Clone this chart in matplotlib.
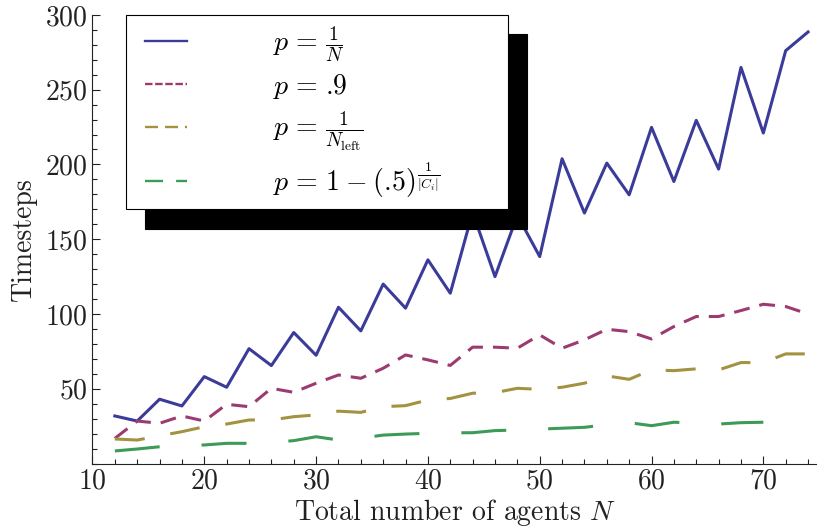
import matplotlib
matplotlib.use("Agg")
import matplotlib.pyplot as plt
from matplotlib.lines import Line2D
from matplotlib.legend_handler import HandlerLine2D
from matplotlib.ticker import MultipleLocator

# agents N = 12, 14, ..., 74
agents = list(range(12, 76, 2))

steps_inv_n = [31.8, 28.4, 43, 38.5, 58.1, 51, 76.8, 65.5, 87.6, 72.4, 104.5, 88.7,
               120, 103.9, 136.2, 113.9, 168, 125, 166, 138.4, 203.8, 167.5, 200.9,
               179.7, 224.8, 188.6, 229.5, 196.9, 264.9, 221, 276.1, 288.6]
steps_p09 = [16.8, 28.4, 26.9, 31.8, 28.4, 39.6, 38, 50.3, 47.6, 53.7, 59.2, 57,
             63.7, 72.6, 69.3, 65.6, 77.8, 77.8, 77.1, 86, 77.1, 82.7, 89.8, 88.2,
             83.3, 91.6, 98.3, 98.3, 102.3, 106.5, 105, 100]
steps_inv_left = [16.4, 15.7, 18.5, 21.3, 24.6, 26.4, 29.1, 29.1, 31.3, 32.5, 35,
                  34.2, 38, 38.7, 42.5, 43.5, 47, 47.4, 50.3, 49.6, 51, 53.7, 58.6,
                  56.3, 62.6, 62.1, 63.3, 62.6, 67.5, 67.5, 73.3, 73.3]
# last series stops at N = 70
steps_cluster = [8.4, 9.7, 11.2, 12, 12.4, 13.5, 13.5, 14, 15.3, 17.9, 15.7, 17,
                 19, 19.7, 20.2, 20.5, 20.6, 22, 22.4, 23, 23.6, 24.2, 26, 27.3,
                 25.3, 27.6, 27, 26.4, 27.3, 27.6]

# mathtext puts a gap after "." so take it back for the decimals
eq = r"\hspace{0.12}=\hspace{0.12}"
labels = [r"$p" + eq + r"\frac{1}{N}$",
          r"$p" + eq + r".\hspace{-0.2}9$",
          r"$p" + eq + r"\frac{1}{N_{\mathrm{left}}}$",
          r"$p" + eq + r"1 \hspace{0.05}-\hspace{0.05} (.\hspace{-0.2}5)^{\frac{1}{|C_i|}}$"]
colors = ["#3b3b9a", "#9c3b70", "#a3923f", "#3c9b56"]
plot_dashes = [None, (11.5, 7.2), (21.6, 18.7), (32.4, 30.2)]
legend_dashes = [None, (5.4, 1.9), (9.4, 5.0), (13.0, 9.4)]

plt.rcParams["font.family"] = "serif"
plt.rcParams["font.serif"] = ["cmr10"]
plt.rcParams["mathtext.fontset"] = "cm"
plt.rcParams["axes.formatter.use_mathtext"] = True
plt.rcParams["lines.scale_dashes"] = False

FS = 20
fig = plt.figure(figsize=(8.17, 5.29), dpi=100)
ax = fig.add_axes([0.1132, 0.1238, 0.8868, 0.848])

series = [steps_inv_n, steps_p09, steps_inv_left, steps_cluster]
for vals, col, dash in zip(series, colors, plot_dashes):
    line, = ax.plot(agents[:len(vals)], vals, color=col, lw=2.2)
    if dash is not None:
        line.set_dashes(dash)

ax.set_xlim(10, 74.8)
ax.set_ylim(0, 300)
ax.set_yticks([50, 100, 150, 200, 250, 300])
ax.xaxis.set_major_locator(MultipleLocator(10))
ax.xaxis.set_minor_locator(MultipleLocator(2))
ax.yaxis.set_minor_locator(MultipleLocator(10))
ax.tick_params(which="both", direction="in", top=False, right=False,
               labelsize=FS, colors="#222222", width=0.8)
ax.tick_params(which="major", length=6)
ax.tick_params(which="minor", length=3.6)
for side in ["top", "right"]:
    ax.spines[side].set_visible(False)
for side in ["left", "bottom"]:
    ax.spines[side].set_color("#222222")

ax.set_xlabel(r"Total number of agents $N$", fontsize=FS, color="#222222", labelpad=2)
ax.set_ylabel("Timesteps", fontsize=FS, color="#222222", labelpad=6)

handles = []
for col, dash in zip(colors, legend_dashes):
    h = Line2D([], [], color=col, lw=1.7)
    if dash is not None:
        h.set_dashes(dash)
    handles.append(h)

# small border pad, but push the sample lines right with xpad
leg = ax.legend(handles, labels, loc="upper left",
                bbox_to_anchor=(0.046, 0.574, 0.5275, 0.426), mode="expand",
                borderaxespad=0, fontsize=FS, handlelength=1.89,
                handletextpad=3.1, labelspacing=0.3, borderpad=0.32,
                handler_map={Line2D: HandlerLine2D(xpad=0.38)},
                fancybox=False, framealpha=1, edgecolor="black",
                shadow={"ox": 14, "oy": -14, "facecolor": "black",
                        "edgecolor": "black", "alpha": 1})
leg.get_frame().set_linewidth(0.8)

fig.savefig("out.png", dpi=100)
